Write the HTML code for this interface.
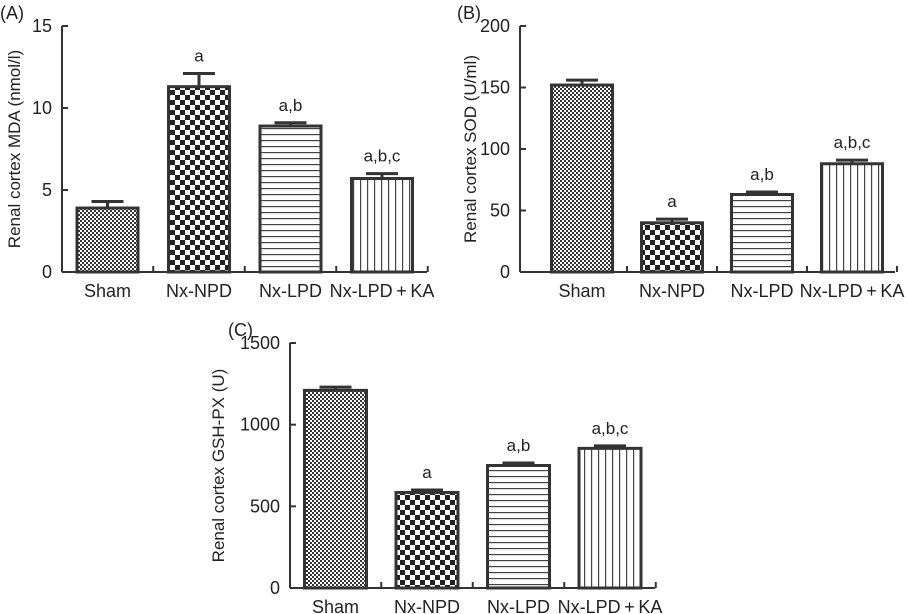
<!DOCTYPE html>
<html><head><meta charset="utf-8">
<style>
html,body{margin:0;padding:0;background:#fff;}
svg{display:block;font-family:"Liberation Sans",Arial,sans-serif;}
</style></head>
<body>
<svg id="chart" width="908" height="614" viewBox="0 0 908 614" xmlns="http://www.w3.org/2000/svg">
<defs>
<pattern id="pSham" width="4" height="4" patternUnits="userSpaceOnUse">
<rect width="4" height="4" fill="#fff"/><rect width="2" height="2" fill="#333"/><rect x="2" y="2" width="2" height="2" fill="#333"/>
</pattern>
<pattern id="pNPD" width="10" height="10" patternUnits="userSpaceOnUse">
<rect width="10" height="10" fill="#fff"/><rect width="5" height="5" fill="#222"/><rect x="5" y="5" width="5" height="5" fill="#222"/>
</pattern>
<pattern id="pLPD" width="6" height="6" patternUnits="userSpaceOnUse">
<rect width="6" height="6" fill="#fff"/><rect y="2" width="6" height="1.2" fill="#444"/>
</pattern>
<pattern id="pKA" width="7" height="7" patternUnits="userSpaceOnUse">
<rect width="7" height="7" fill="#fff"/><rect x="3" width="1.2" height="7" fill="#444"/>
</pattern>
</defs>
</svg>
<script>
const categories = ["Sham","Nx-NPD","Nx-LPD","Nx-LPD\u2009+\u2009KA"];
const mdaValues = [3.9, 11.3, 8.9, 5.7];
const mdaErrors = [0.4, 0.8, 0.2, 0.3];
const mdaLetters = ["", "a", "a,b", "a,b,c"];
const mdaTicks = [0, 5, 10, 15];
const sodValues = [152, 40, 63, 88];
const sodErrors = [4, 3, 2, 3];
const sodLetters = ["", "a", "a,b", "a,b,c"];
const sodTicks = [0, 50, 100, 150, 200];
const gshValues = [1210, 585, 750, 855];
const gshErrors = [20, 15, 15, 15];
const gshLetters = ["", "a", "a,b", "a,b,c"];
const gshTicks = [0, 500, 1000, 1500];

const svg = document.getElementById('chart');
const NS = 'http://www.w3.org/2000/svg';
const fills = ['url(#pSham)','url(#pNPD)','url(#pLPD)','url(#pKA)'];
function mk(tag, attrs, parent){
  const e = document.createElementNS(NS, tag);
  for (const k in attrs) e.setAttribute(k, attrs[k]);
  parent.appendChild(e); return e;
}
function panel(key, cfg, values, errors, letters, ticks, title, tag){
  const g = mk('g', {}, svg);
  
  
  const {x0, x1, yTop, yBot, vmax, barW, firstCenter, step, labelX, labelY, titleX} = cfg;
  const y = v => yBot - v / vmax * (yBot - yTop);
  const xc = i => firstCenter + i * step;
  const lbl = mk('text', {x: labelX, y: labelY, 'font-size': 18, fill: '#222'}, g);
  lbl.textContent = tag;
  
  
  const yax = mk('line', {x1: x0, y1: yTop, x2: x0, y2: yBot, stroke: '#333', 'stroke-width': 2}, g);
  
  
  const xax = mk('line', {x1: x0, y1: yBot, x2: x1, y2: yBot, stroke: '#333', 'stroke-width': 2}, g);
  
  
  ticks.forEach(t => {
    mk('line', {x1: x0, y1: y(t), x2: x0 + 6, y2: y(t), stroke: '#333', 'stroke-width': 2}, g);
    const tl = mk('text', {x: x0 - 10, y: y(t) + 6, 'font-size': 18, 'text-anchor': 'end', fill: '#222'}, g);
    tl.textContent = t;
    
    
  });
  for (let i = 1; i <= categories.length; i++) {
    const tx = xc(i - 1) + step / 2;
    mk('line', {x1: tx, y1: yBot, x2: tx, y2: yBot - 6, stroke: '#333', 'stroke-width': 2}, g);
  }
  const yt = mk('text', {transform: `translate(${titleX},${(yTop + yBot) / 2}) rotate(-90)`, 'font-size': 17, 'text-anchor': 'middle', fill: '#222'}, g);
  yt.textContent = title;
  
  
  categories.forEach((c, i) => {
    const cx = xc(i);
    const eb = mk('path', {d: `M${cx},${y(values[i])} V${y(values[i] + errors[i])} M${cx - 16},${y(values[i] + errors[i])} H${cx + 16}`, stroke: '#333', 'stroke-width': 3, fill: 'none'}, g);
    
    
    const b = mk('rect', {x: cx - barW / 2, y: y(values[i]), width: barW, height: yBot - y(values[i]), fill: fills[i], stroke: '#333', 'stroke-width': 3}, g);
    
    
    if (letters[i]) {
      const lt = mk('text', {x: cx, y: y(values[i] + errors[i]) - 12, 'font-size': 17, 'text-anchor': 'middle', fill: '#222'}, g);
      lt.textContent = letters[i];
      
      
    }
    const xl = mk('text', {x: cx, y: yBot + 25, 'font-size': 18, 'text-anchor': 'middle', fill: '#222'}, g);
    xl.textContent = c;
    
    
  });
}
panel('mda', {x0: 62, x1: 427, yTop: 26, yBot: 272, vmax: 15, barW: 61, firstCenter: 107.5, step: 91.5, labelX: 0, labelY: 19, titleX: 20}, mdaValues, mdaErrors, mdaLetters, mdaTicks, 'Renal cortex MDA (nmol/l)', '(A)');
panel('sod', {x0: 520, x1: 895, yTop: 26, yBot: 272, vmax: 200, barW: 61, firstCenter: 582, step: 90, labelX: 457, labelY: 19, titleX: 476}, sodValues, sodErrors, sodLetters, sodTicks, 'Renal cortex SOD (U/ml)', '(B)');
panel('gsh', {x0: 290, x1: 655, yTop: 343, yBot: 588, vmax: 1500, barW: 62, firstCenter: 335.5, step: 91.5, labelX: 228, labelY: 336, titleX: 224}, gshValues, gshErrors, gshLetters, gshTicks, 'Renal cortex GSH-PX (U)', '(C)');
</script>
</body></html>
